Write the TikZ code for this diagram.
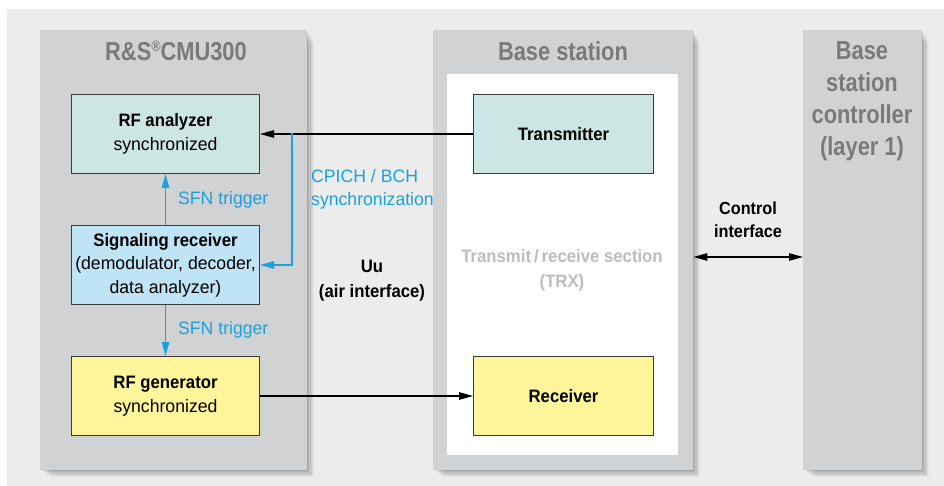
\documentclass[tikz,border=0pt]{standalone}
\usepackage{fontspec}
\setmainfont{Liberation Sans}[FakeStretch=0.98,BoldFeatures={FakeStretch=0.93}]
\newfontfamily\titlefont{Liberation Sans}[FakeStretch=0.84]
\usetikzlibrary{arrows.meta}
\definecolor{bgc}{HTML}{ECECEC}
\definecolor{panel}{HTML}{D1D2D4}
\definecolor{ttl}{HTML}{7A7A7A}
\definecolor{trx}{HTML}{BDBDBD}
\definecolor{blu}{HTML}{1BA1DD}
\definecolor{teal}{HTML}{CCE6E3}
\definecolor{lblue}{HTML}{BFE4F6}
\definecolor{ylw}{HTML}{FFF59B}
\definecolor{edge}{HTML}{3A3A3A}
\newcommand\dropsh[4]{%
  \foreach \o/\op in {2/0.08,4/0.07,6/0.06,8/0.05,10/0.04,12/0.03}{%
    \fill[black,opacity=\op] (#1+\o,#2+\o) rectangle (#3+\o*0.6,#4+\o*0.6);}}
\begin{document}
\begin{tikzpicture}[x=1pt,y=-1pt,
  panelbox/.style={fill=panel,draw=none,anchor=north west,inner sep=0pt},
  block/.style={draw=edge,line width=1pt,anchor=north west,inner sep=0pt,
    minimum width=188pt,minimum height=79pt,align=center,
    font=\fontsize{18}{23.5}\selectfont},
  ttlstyle/.style={text=ttl,font=\titlefont\bfseries\fontsize{26}{32}\selectfont,align=center,inner sep=0pt},
  bluelbl/.style={text=blu,font=\fontsize{18}{23}\selectfont,inner sep=0pt,align=left},
  blklbl/.style={font=\bfseries\fontsize{18}{25}\selectfont,inner sep=0pt,align=center},
  blkarrow/.style={draw=black,line width=1.1pt,-{Triangle[length=14pt,width=7.5pt]}},
  bluarrow/.style={draw=blu,line width=1.5pt,-{Triangle[length=14pt,width=7.5pt]}},
]
\useasboundingbox (0,0) rectangle (944,486);
\fill[white] (0,0) rectangle (944,486);
\fill[bgc] (7,9) rectangle (944,486);
% shadows
\dropsh{40}{30}{307}{470}
\dropsh{433}{30}{693}{470}
\dropsh{803}{30}{922}{470}
% panels
\node[panelbox,minimum width=267pt,minimum height=440pt] (cmu) at (40,30) {};
\node[panelbox,minimum width=260pt,minimum height=440pt] (bs) at (433,30) {};
\node[panelbox,fill=white,minimum width=231pt,minimum height=381pt] (trxarea) at (447,74) {};
\node[panelbox,minimum width=119pt,minimum height=440pt] (bsc) at (803,30) {};
% titles
\node[ttlstyle] (t1) at (176,51) {R\&S\raisebox{0.32em}{\fontsize{15}{15}\selectfont ®}CMU300};
\node[ttlstyle] (t2) at (563,51) {Base station};
\node[ttlstyle,anchor=north] (t3) at (862,41.5) {Base\\station\\controller\\(layer 1)};
% blocks
\node[block,fill=teal] (rfa) at (71,94) {\textbf{RF analyzer}\\synchronized};
\node[block,fill=lblue] (sig) at (71,225) {\textbf{Signaling receiver}\\(demodulator, decoder,\\data analyzer)};
\node[block,fill=ylw] (gen) at (71,356) {\textbf{RF generator}\\synchronized};
\node[block,fill=teal,minimum width=180pt] (tx) at (473,94) {\textbf{Transmitter}};
\node[block,fill=ylw,minimum width=180pt] (rx) at (473,356) {\textbf{Receiver}};
% labels
\node[bluelbl,anchor=west] (sfn1) at (178,200) {SFN trigger};
\node[bluelbl,anchor=west] (sfn2) at (178,330) {SFN trigger};
\node[bluelbl,anchor=west] (cpich) at (311,189) {CPICH / BCH\\synchronization};
\node[blklbl] (uu) at (372,281) {Uu\\(air interface)};
\node[blklbl,text=trx] (trxl) at (562,270) {Transmit\,/\,receive section\\(TRX)};
\node[blklbl,font=\bfseries\fontsize{17.5}{23}\selectfont] (ctl) at (748,220) {Control\\interface};
% connectors
\coordinate (split) at (292,133.5);
\coordinate (cl) at (748,257);
\draw[blkarrow] (tx.west) -- (rfa.east);
\draw[bluarrow] (split) |- (sig.east);
\draw[bluarrow] (sig.north) -- (rfa.south);
\draw[bluarrow] (sig.south) -- (gen.north);
\draw[blkarrow] (gen.east) -- (rx.west);
\draw[blkarrow,{Triangle[length=14pt,width=7.5pt]}-{Triangle[length=14pt,width=7.5pt]}] (cl -| bs.east) -- (cl -| bsc.west);
\end{tikzpicture}
\end{document}
